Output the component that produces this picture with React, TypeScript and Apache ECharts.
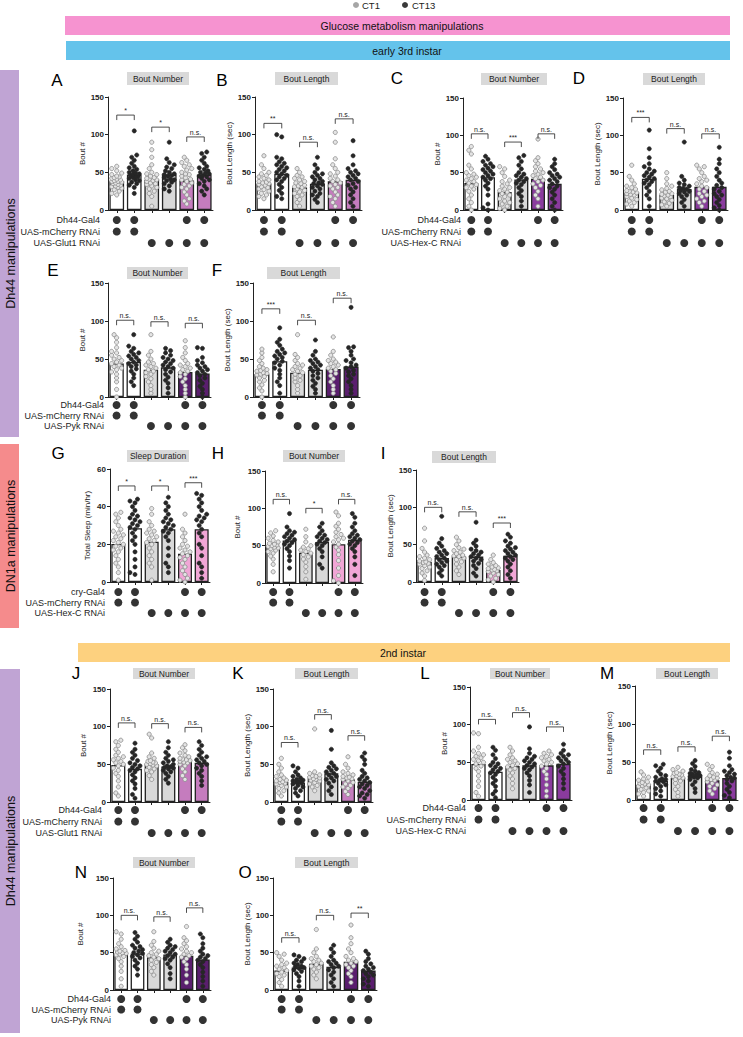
import React, { useEffect, useRef } from "react";
import * as echarts from "echarts";

const FONT = "'Liberation Sans', Arial, Helvetica, sans-serif";
const INK = "#222222";

// ---------- categories / labels ----------
const bars = ["0", "1", "2", "3", "4", "5"];
const glut1Labels = ["Dh44-Gal4", "UAS-mCherry RNAi", "UAS-Glut1 RNAi"];
const hexLabels = ["Dh44-Gal4", "UAS-mCherry RNAi", "UAS-Hex-C RNAi"];
const pykLabels = ["Dh44-Gal4", "UAS-mCherry RNAi", "UAS-Pyk RNAi"];
const cryLabels = ["cry-Gal4", "UAS-mCherry RNAi", "UAS-Hex-C RNAi"];
const genoRows = [
  [1, 1, 0, 0, 1, 1],
  [1, 1, 0, 0, 0, 0],
  [0, 0, 1, 1, 1, 1],
];

// ---------- panel A ----------
const meanA = [38, 47, 40, 47, 39, 47];
const sigYA = [126, 110, 97];
const sigA = ["*", "*", "n.s."];
const ptsA = [
  [20, 22, 25, 27, 29, 30, 31, 32, 33, 34, 35, 36, 37, 38, 38, 39, 40, 41, 42, 43, 44, 45, 47, 49, 52, 55, 58],
  [22, 30, 33, 35, 37, 39, 40, 42, 43, 44, 45, 46, 47, 48, 49, 50, 52, 54, 56, 58, 62, 66, 70, 73, 105],
  [5, 18, 22, 25, 28, 30, 32, 34, 35, 36, 38, 39, 40, 41, 42, 43, 45, 47, 48, 50, 55, 60, 70, 80, 90],
  [25, 28, 32, 35, 37, 39, 40, 41, 43, 45, 46, 47, 48, 50, 52, 55, 57, 60, 63, 68, 90],
  [8, 12, 15, 20, 24, 28, 30, 32, 34, 36, 38, 40, 41, 43, 45, 47, 48, 50, 53, 55, 58, 60, 63, 66, 70],
  [20, 25, 28, 32, 35, 38, 40, 42, 44, 45, 46, 48, 49, 50, 52, 54, 56, 58, 62, 66, 70, 75, 77],
];
// ---------- panel B ----------
const meanB = [35, 48, 30, 35, 38, 40];
const sigYB = [115, 90, 121];
const sigB = ["**", "n.s.", "n.s."];
const ptsB = [
  [15, 18, 20, 22, 25, 27, 28, 30, 31, 33, 34, 35, 36, 37, 38, 40, 42, 44, 46, 48, 50, 55, 60, 72],
  [15, 18, 22, 26, 30, 34, 38, 40, 42, 44, 46, 48, 50, 52, 54, 56, 58, 60, 62, 64, 68, 70, 97, 100],
  [5, 10, 14, 18, 20, 22, 24, 26, 28, 30, 31, 32, 33, 35, 36, 38, 40, 42, 44, 46, 50, 55],
  [10, 14, 18, 20, 22, 25, 28, 30, 32, 34, 35, 36, 38, 40, 42, 44, 46, 48, 50, 55, 60, 70],
  [5, 10, 15, 18, 20, 24, 28, 30, 32, 34, 36, 38, 40, 42, 45, 48, 50, 55, 60, 68, 90, 103],
  [5, 10, 15, 20, 24, 28, 30, 33, 35, 38, 40, 42, 44, 46, 48, 50, 52, 55, 60, 72, 92],
];
// ---------- panel C ----------
const meanC = [36, 44, 24, 41, 42, 35];
const sigYC = [102, 91, 102];
const sigC = ["n.s.", "***", "n.s."];
const ptsC = [
  [0, 5, 10, 15, 20, 25, 28, 30, 32, 34, 36, 38, 40, 42, 44, 46, 48, 50, 55, 60, 75, 80, 85],
  [0, 3, 8, 20, 28, 32, 36, 40, 42, 44, 46, 48, 50, 52, 54, 56, 58, 60, 62, 65, 68, 72],
  [0, 2, 5, 8, 10, 12, 15, 18, 20, 22, 24, 26, 28, 30, 32, 35, 38, 40, 45, 50, 55, 58],
  [5, 12, 18, 22, 26, 30, 34, 36, 38, 40, 42, 44, 46, 48, 50, 55, 60, 65, 70, 73],
  [5, 15, 20, 25, 30, 33, 35, 38, 40, 42, 44, 46, 48, 50, 52, 55, 58, 62, 66, 70, 95],
  [0, 5, 10, 15, 20, 24, 28, 30, 32, 35, 38, 40, 42, 44, 46, 48, 50, 54, 58, 62, 68],
];
// ---------- panel D ----------
const meanD = [23, 42, 20, 28, 31, 31];
const sigYD = [124, 109, 102];
const sigD = ["***", "n.s.", "n.s."];
const ptsD = [
  [5, 8, 10, 12, 14, 16, 18, 20, 21, 22, 23, 24, 25, 26, 28, 30, 32, 35, 40, 45, 60],
  [5, 15, 20, 25, 30, 34, 36, 38, 40, 42, 44, 46, 48, 50, 52, 55, 58, 62, 70, 82, 107],
  [5, 7, 9, 11, 13, 15, 16, 18, 19, 20, 21, 22, 24, 25, 27, 29, 32, 35, 42, 50],
  [5, 10, 14, 18, 20, 22, 24, 25, 26, 28, 29, 30, 32, 34, 36, 40, 45, 91],
  [5, 10, 12, 15, 18, 20, 22, 25, 28, 30, 32, 35, 38, 40, 42, 45, 50, 55, 58, 60],
  [0, 3, 6, 10, 14, 18, 20, 22, 25, 28, 30, 33, 36, 40, 45, 50, 55, 62, 68, 84],
];
// ---------- panel E ----------
const meanE = [44, 46, 36, 39, 33, 31];
const sigYE = [101, 99, 97];
const sigE = ["n.s.", "n.s.", "n.s."];
const ptsE = [
  [0, 10, 20, 25, 30, 33, 36, 38, 40, 42, 44, 46, 48, 50, 52, 55, 58, 60, 65, 72, 78, 82],
  [15, 20, 25, 30, 34, 37, 40, 42, 44, 46, 48, 50, 52, 54, 56, 58, 60, 64, 67, 82],
  [5, 10, 15, 20, 24, 27, 30, 32, 34, 36, 38, 40, 42, 44, 46, 50, 55, 60, 82],
  [5, 12, 18, 22, 26, 30, 33, 36, 38, 40, 42, 44, 46, 48, 50, 52, 55, 58, 61, 64],
  [0, 5, 10, 15, 20, 24, 27, 30, 32, 34, 36, 38, 40, 42, 44, 48, 52, 58, 65, 74],
  [0, 5, 10, 14, 18, 22, 25, 28, 30, 32, 34, 36, 38, 40, 42, 45, 48, 52, 64, 65],
];
// ---------- panel F ----------
const meanF = [30, 47, 32, 36, 37, 40];
const sigYF = [116, 101, 130];
const sigF = ["***", "n.s.", "n.s."];
const ptsF = [
  [0, 8, 12, 16, 20, 22, 25, 27, 29, 30, 31, 32, 34, 35, 36, 38, 40, 44, 48, 52, 58, 63],
  [5, 15, 20, 25, 30, 35, 38, 42, 45, 47, 50, 52, 54, 56, 58, 60, 63, 68, 72, 76, 91],
  [5, 10, 15, 20, 22, 25, 28, 30, 32, 34, 36, 38, 40, 42, 44, 48, 52, 56, 82],
  [5, 10, 14, 18, 22, 25, 28, 31, 34, 36, 38, 40, 42, 44, 46, 48, 50, 55, 60, 75],
  [5, 10, 15, 20, 24, 28, 31, 34, 36, 38, 40, 42, 44, 46, 48, 50, 55, 60, 79],
  [5, 10, 15, 20, 24, 28, 30, 33, 35, 38, 40, 42, 45, 48, 50, 55, 60, 65, 66, 118],
];
// ---------- panel G ----------
const meanG = [20.2, 28.6, 21.4, 28, 15, 28];
const sigYG = [51, 51, 52.7];
const sigG = ["*", "*", "***"];
const ptsG = [
  [1, 5, 8, 10, 12, 14, 16, 17, 18, 19, 20, 21, 22, 23, 24, 25, 26, 27, 28, 30, 32, 34, 36, 37],
  [4, 5, 8, 12, 16, 20, 22, 24, 26, 28, 29, 30, 31, 32, 33, 34, 35, 36, 38, 40, 42, 43, 44],
  [1, 8, 10, 12, 14, 16, 18, 20, 21, 22, 23, 24, 25, 26, 27, 28, 30, 32, 36, 39],
  [5, 8, 10, 14, 18, 22, 24, 26, 27, 28, 29, 30, 31, 32, 33, 34, 36, 38, 40, 42, 45],
  [0, 1, 2, 4, 6, 8, 10, 12, 13, 14, 15, 16, 17, 18, 19, 20, 22, 24, 26, 28, 36],
  [2, 5, 8, 10, 14, 18, 20, 24, 26, 28, 30, 32, 33, 34, 35, 36, 38, 40, 42, 44, 46, 47],
];
// ---------- panel H ----------
const meanH = [48.6, 57, 40.6, 55, 52, 58];
const sigYH = [112, 100, 112];
const sigH = ["n.s.", "*", "n.s."];
const ptsH = [
  [15, 25, 32, 36, 40, 42, 44, 46, 47, 48, 49, 50, 51, 52, 53, 55, 57, 60, 63, 67, 70],
  [20, 30, 36, 42, 46, 50, 52, 54, 56, 58, 60, 62, 64, 66, 68, 70, 75, 93],
  [5, 15, 22, 28, 32, 35, 38, 40, 42, 44, 46, 48, 50, 55, 62, 72],
  [20, 25, 35, 42, 46, 50, 52, 54, 56, 58, 60, 62, 64, 66, 70, 75, 80],
  [0, 3, 10, 20, 30, 38, 44, 48, 52, 55, 58, 60, 62, 65, 68, 72, 76, 80, 90, 95],
  [10, 25, 35, 42, 46, 50, 52, 54, 56, 58, 60, 62, 64, 66, 70, 75, 80, 88, 93],
];
// ---------- panel I ----------
const meanI = [27, 32, 34, 34, 16, 35];
const sigYI = [100, 94, 79];
const sigI = ["n.s.", "n.s.", "***"];
const ptsI = [
  [2, 8, 12, 15, 18, 20, 22, 24, 25, 26, 27, 28, 30, 32, 34, 36, 40, 45, 55, 72],
  [8, 12, 16, 20, 22, 24, 26, 28, 30, 32, 34, 36, 38, 40, 42, 45, 48, 52, 58, 88],
  [10, 15, 20, 24, 27, 30, 32, 34, 35, 36, 38, 40, 42, 44, 46, 50, 55, 60],
  [8, 12, 18, 22, 25, 28, 30, 32, 34, 36, 38, 40, 42, 44, 48, 52, 56, 80],
  [0, 3, 5, 8, 10, 12, 14, 15, 16, 17, 18, 19, 20, 22, 24, 26, 30, 36],
  [5, 10, 15, 20, 24, 28, 30, 32, 34, 36, 38, 40, 42, 44, 46, 48, 52, 55, 60, 64],
];
// ---------- panel J ----------
const meanJ = [49, 44, 50, 47, 54, 52];
const sigYJ = [105, 104, 99];
const sigJ = ["n.s.", "n.s.", "n.s."];
const ptsJ = [
  [8, 12, 20, 28, 34, 38, 42, 45, 48, 50, 52, 54, 56, 58, 60, 62, 66, 70, 75, 80, 82],
  [5, 10, 18, 24, 28, 32, 36, 40, 42, 44, 46, 48, 50, 52, 55, 58, 62, 66, 70, 78],
  [30, 35, 40, 42, 44, 46, 48, 49, 50, 51, 52, 53, 54, 55, 58, 60, 65, 85, 90],
  [25, 30, 34, 38, 40, 42, 44, 45, 46, 47, 48, 50, 52, 54, 56, 58, 62, 66, 72, 80],
  [30, 35, 40, 44, 48, 50, 52, 53, 54, 55, 56, 57, 58, 60, 62, 65, 68, 72, 76],
  [22, 28, 34, 38, 42, 45, 48, 50, 52, 54, 56, 58, 60, 62, 66, 70, 75, 80],
];
// ---------- panel K ----------
const meanK = [27, 26, 32, 38, 30, 27];
const sigYK = [79, 116, 88];
const sigK = ["n.s.", "n.s.", "n.s."];
const ptsK = [
  [8, 12, 15, 18, 20, 22, 24, 25, 26, 27, 28, 29, 30, 32, 34, 36, 40, 45, 50, 58],
  [8, 12, 15, 18, 20, 22, 24, 25, 26, 27, 28, 29, 30, 32, 34, 36, 40, 45, 48],
  [15, 20, 22, 24, 26, 28, 29, 30, 31, 32, 33, 34, 35, 36, 38, 40, 97],
  [10, 15, 20, 25, 28, 30, 32, 34, 36, 38, 40, 42, 44, 46, 48, 52, 70, 95],
  [10, 14, 18, 20, 22, 24, 26, 28, 30, 31, 32, 33, 34, 36, 38, 40, 45, 50, 60],
  [5, 8, 10, 12, 15, 18, 20, 22, 24, 26, 28, 30, 32, 34, 38, 42, 50, 56, 60, 65],
];
// ---------- panel L ----------
const meanL = [47.8, 37.6, 45, 46, 46, 48];
const sigYL = [107, 116, 97];
const sigL = ["n.s.", "n.s.", "n.s."];
const ptsL = [
  [5, 10, 18, 25, 32, 38, 42, 45, 48, 50, 52, 54, 56, 58, 60, 62, 65, 70, 88, 89],
  [3, 8, 12, 18, 22, 26, 30, 34, 36, 38, 40, 42, 44, 46, 48, 50, 55, 60, 66, 70],
  [15, 22, 28, 32, 36, 40, 42, 44, 46, 48, 50, 52, 54, 56, 60, 65, 70],
  [10, 20, 26, 32, 36, 40, 42, 44, 46, 48, 50, 52, 54, 56, 58, 62, 68, 97],
  [5, 12, 20, 28, 34, 38, 42, 45, 48, 50, 52, 54, 56, 58, 60, 62, 65],
  [15, 22, 28, 34, 38, 42, 45, 48, 50, 52, 54, 56, 58, 60, 62, 66, 74],
];
// ---------- panel M ----------
const meanM = [20, 25, 29, 31, 26, 29];
const sigYM = [66, 70, 84];
const sigM = ["n.s.", "n.s.", "n.s."];
const ptsM = [
  [5, 8, 10, 12, 14, 16, 18, 19, 20, 21, 22, 23, 24, 26, 28, 30, 33, 37],
  [5, 8, 12, 15, 18, 20, 22, 24, 25, 26, 27, 28, 30, 32, 34, 38, 42, 45, 47],
  [5, 10, 14, 18, 22, 25, 27, 29, 30, 31, 32, 33, 34, 35, 36, 38, 40, 43],
  [10, 15, 20, 24, 27, 29, 30, 31, 32, 33, 34, 35, 36, 38, 40, 44, 48, 52],
  [8, 12, 15, 18, 20, 22, 24, 26, 27, 28, 29, 30, 32, 34, 36, 40, 44, 47],
  [3, 6, 10, 14, 18, 22, 25, 27, 29, 30, 32, 34, 36, 38, 40, 45, 55, 63],
];
// ---------- panel N ----------
const meanN = [48, 49, 44, 47.6, 46, 41];
const sigYN = [100, 98, 110];
const sigN = ["n.s.", "n.s.", "n.s."];
const ptsN = [
  [5, 15, 25, 32, 38, 42, 45, 47, 48, 49, 50, 51, 52, 53, 55, 58, 62, 68, 75, 78],
  [20, 28, 32, 36, 40, 43, 45, 47, 49, 50, 52, 54, 56, 58, 60, 64, 68, 72, 77],
  [20, 25, 30, 34, 37, 40, 42, 44, 46, 48, 50, 52, 56, 60, 65, 78],
  [15, 22, 30, 35, 40, 42, 44, 46, 48, 50, 52, 54, 56, 58, 60, 64, 68],
  [10, 20, 28, 34, 38, 42, 44, 46, 48, 50, 52, 55, 58, 62, 66, 70, 85],
  [5, 12, 18, 24, 30, 34, 38, 40, 42, 44, 46, 48, 52, 56, 62, 70, 75],
];
// ---------- panel O ----------
const meanO = [26, 30, 35, 31, 38, 26];
const sigYO = [70, 100, 103];
const sigO = ["n.s.", "n.s.", "**"];
const ptsO = [
  [5, 10, 14, 18, 20, 22, 24, 26, 28, 30, 32, 34, 36, 40, 45, 48, 50],
  [5, 12, 18, 22, 25, 27, 29, 30, 31, 32, 34, 36, 38, 40, 42, 45, 47],
  [15, 20, 24, 28, 30, 32, 34, 36, 38, 40, 42, 45, 50, 55, 81],
  [5, 10, 15, 20, 24, 27, 30, 32, 34, 36, 38, 40, 45, 50, 55, 60],
  [10, 18, 22, 26, 30, 32, 34, 36, 38, 40, 42, 45, 50, 55, 62, 70, 87],
  [5, 8, 12, 15, 18, 20, 22, 24, 26, 28, 30, 32, 35, 38, 42, 48, 52],
];

// ---------- colours ----------
const C_ORCHID = "#c57cbe";
const C_MID = "#8a3b9e";
const C_DARK = "#5a1e6e";
const C_PINK = "#f1a6d6";

type Panel = {
  key: string; pts: number[][]; mean: number[]; sigY: number[]; sig: string[];
  color: string; max: number; yName: string; title: string; geno: string[]; showGeno: boolean;
  x0: number; x1: number; yT: number; yB: number; r0: number; r2: number;
  gap: number; lm: number; letter: [number, number]; box: [number, number, number, number];
};

const panels: Panel[] = [
  { key: "A", pts: ptsA, mean: meanA, sigY: sigYA, sig: sigA, color: C_ORCHID, max: 150, yName: "Bout #", title: "Bout Number", geno: glut1Labels, showGeno: true, x0: 108, x1: 213, yT: 97, yB: 210, r0: 220, r2: 243, gap: 17, lm: 8, letter: [57, 80], box: [127, 72, 62, 13] },
  { key: "B", pts: ptsB, mean: meanB, sigY: sigYB, sig: sigB, color: C_ORCHID, max: 150, yName: "Bout Length (sec)", title: "Bout Length", geno: glut1Labels, showGeno: false, x0: 255, x1: 362, yT: 97, yB: 210, r0: 220, r2: 243, gap: 14, lm: 4, letter: [222, 80], box: [275, 72, 63, 13] },
  { key: "C", pts: ptsC, mean: meanC, sigY: sigYC, sig: sigC, color: C_MID, max: 150, yName: "Bout #", title: "Bout Number", geno: hexLabels, showGeno: true, x0: 463, x1: 563, yT: 98, yB: 210, r0: 220, r2: 243, gap: 21, lm: 2, letter: [397, 78], box: [481, 73, 66, 12] },
  { key: "D", pts: ptsD, mean: meanD, sigY: sigYD, sig: sigD, color: C_MID, max: 150, yName: "Bout Length (sec)", title: "Bout Length", geno: hexLabels, showGeno: false, x0: 623, x1: 728, yT: 98, yB: 210, r0: 220, r2: 243, gap: 19, lm: 4, letter: [579, 78], box: [643, 73, 62, 12] },
  { key: "E", pts: ptsE, mean: meanE, sigY: sigYE, sig: sigE, color: C_DARK, max: 150, yName: "Bout #", title: "Bout Number", geno: pykLabels, showGeno: true, x0: 108, x1: 211, yT: 283, yB: 397, r0: 405, r2: 426, gap: 17, lm: 4, letter: [53, 270], box: [127, 267, 61, 12] },
  { key: "F", pts: ptsF, mean: meanF, sigY: sigYF, sig: sigF, color: C_DARK, max: 150, yName: "Bout Length (sec)", title: "Bout Length", geno: pykLabels, showGeno: false, x0: 253, x1: 360, yT: 283, yB: 397, r0: 405, r2: 426, gap: 14, lm: 4, letter: [217, 270], box: [267, 267, 73, 12] },
  { key: "G", pts: ptsG, mean: meanG, sigY: sigYG, sig: sigG, color: C_PINK, max: 60, yName: "Total Sleep (min/hr)", title: "Sleep Duration", geno: cryLabels, showGeno: true, x0: 110, x1: 210, yT: 469, yB: 582, r0: 592, r2: 613, gap: 19, lm: 5, letter: [58, 453], box: [127, 450, 62, 12] },
  { key: "H", pts: ptsH, mean: meanH, sigY: sigYH, sig: sigH, color: C_PINK, max: 150, yName: "Bout #", title: "Bout Number", geno: cryLabels, showGeno: false, x0: 265, x1: 363, yT: 471, yB: 583, r0: 592, r2: 613, gap: 24, lm: 4, letter: [218, 453], box: [283, 450, 62, 12] },
  { key: "I", pts: ptsI, mean: meanI, sigY: sigYI, sig: sigI, color: C_PINK, max: 150, yName: "Bout Length (sec)", title: "Bout Length", geno: cryLabels, showGeno: false, x0: 416, x1: 519, yT: 470, yB: 582, r0: 592, r2: 613, gap: 19, lm: 4, letter: [383, 453], box: [432, 451, 64, 12] },
  { key: "J", pts: ptsJ, mean: meanJ, sigY: sigYJ, sig: sigJ, color: C_ORCHID, max: 150, yName: "Bout #", title: "Bout Number", geno: glut1Labels, showGeno: true, x0: 110, x1: 210, yT: 689, yB: 802, r0: 810, r2: 833, gap: 23, lm: 8, letter: [76, 673], box: [133, 668, 62, 11] },
  { key: "K", pts: ptsK, mean: meanK, sigY: sigYK, sig: sigK, color: C_ORCHID, max: 150, yName: "Bout Length (sec)", title: "Bout Length", geno: glut1Labels, showGeno: false, x0: 273, x1: 373, yT: 689, yB: 802, r0: 810, r2: 833, gap: 21, lm: 4, letter: [238, 673], box: [295, 668, 63, 11] },
  { key: "L", pts: ptsL, mean: meanL, sigY: sigYL, sig: sigL, color: C_MID, max: 150, yName: "Bout #", title: "Bout Number", geno: hexLabels, showGeno: true, x0: 470, x1: 572, yT: 687, yB: 800, r0: 808, r2: 831, gap: 18, lm: 4, letter: [425, 673], box: [490, 668, 60, 11] },
  { key: "M", pts: ptsM, mean: meanM, sigY: sigYM, sig: sigM, color: C_MID, max: 150, yName: "Bout Length (sec)", title: "Bout Length", geno: hexLabels, showGeno: false, x0: 635, x1: 738, yT: 686, yB: 800, r0: 808, r2: 831, gap: 18, lm: 4, letter: [607, 673], box: [656, 668, 62, 11] },
  { key: "N", pts: ptsN, mean: meanN, sigY: sigYN, sig: sigN, color: C_DARK, max: 150, yName: "Bout #", title: "Bout Number", geno: pykLabels, showGeno: true, x0: 113, x1: 211, yT: 878, yB: 990, r0: 999, r2: 1020, gap: 29, lm: 2, letter: [81, 872], box: [133, 857, 62, 11] },
  { key: "O", pts: ptsO, mean: meanO, sigY: sigYO, sig: sigO, color: C_DARK, max: 150, yName: "Bout Length (sec)", title: "Bout Length", geno: pykLabels, showGeno: false, x0: 273, x1: 377, yT: 878, yB: 990, r0: 999, r2: 1020, gap: 20, lm: 4, letter: [245, 872], box: [295, 857, 63, 11] },
];

// beeswarm-style horizontal spreading (pixel offsets), computed from values
function swarm(vals: number[], ppu: number): [number, number][] {
  const sorted = [...vals].sort((a, b) => a - b);
  const placed: [number, number][] = [];
  const offs = [0, -2.5, 2.5, -5, 5, -1.25, 1.25, -3.75, 3.75];
  const d = 3.8;
  return sorted.map((v) => {
    const y = v * ppu;
    let best = 0;
    let bestDist = -1;
    for (const o of offs) {
      let minD = Infinity;
      for (const [px, py] of placed) {
        const dd = Math.hypot(px - o, py - y);
        if (dd < minD) minD = dd;
      }
      if (minD >= d) { best = o; break; }
      if (minD > bestDist) { bestDist = minD; best = o; }
    }
    placed.push([best, y]);
    return [v, best];
  });
}

function buildOption() {
  const grid: any[] = [];
  const xAxis: any[] = [];
  const yAxis: any[] = [];
  const series: any[] = [];
  const graphic: any[] = [];

  panels.forEach((p, i) => {
    const gi = i * 2;
    const w = p.x1 - p.x0;
    const h = p.yB - p.yT;
    const s = (p.r2 - p.r0) / 2;
    grid.push({ left: p.x0, top: p.yT, width: w, height: h });
    grid.push({ left: p.x0, top: p.r0 - s / 2, width: w, height: s * 3 });

    xAxis.push({
      type: "category", gridIndex: gi, data: bars,
      axisLine: { lineStyle: { color: INK, width: 1 } },
      axisTick: { show: true, alignWithLabel: true, length: 3, lineStyle: { color: INK } },
      axisLabel: { show: false }, splitLine: { show: false },
    });
    xAxis.push({ type: "category", gridIndex: gi + 1, data: bars, show: false });

    yAxis.push({
      type: "value", gridIndex: gi, min: 0, max: p.max, interval: p.max / 3,
      name: p.yName, nameLocation: "middle", nameGap: p.gap,
      nameTextStyle: { fontSize: 8, color: INK, fontFamily: FONT },
      axisLine: { show: true, lineStyle: { color: INK, width: 1 } },
      axisTick: { show: true, length: 3, lineStyle: { color: INK } },
      axisLabel: { fontSize: 8, fontWeight: "bold", color: INK, margin: 4, fontFamily: FONT },
      splitLine: { show: false },
    });
    yAxis.push({
      type: "category", gridIndex: gi + 1, data: p.geno, inverse: true,
      axisLine: { show: false }, axisTick: { show: false }, splitLine: { show: false },
      axisLabel: {
        show: p.showGeno, interval: 0, hideOverlap: false, fontSize: 9, color: INK,
        margin: p.lm, fontFamily: FONT,
      },
    });

    const fills = ["#ffffff", "#ffffff", "#d9d9d9", "#d9d9d9", p.color, p.color];
    series.push({
      type: "bar", xAxisIndex: gi, yAxisIndex: gi, barCategoryGap: "16%",
      data: p.mean.map((v, j) => ({ value: v, itemStyle: { color: fills[j] } })),
      itemStyle: { borderColor: INK, borderWidth: 1.3 },
      silent: true, z: 2,
    });

    const ppu = h / p.max;
    const pointData: number[][] = [];
    p.pts.forEach((arr, j) => {
      swarm(arr, ppu).forEach(([v, off]) => pointData.push([j, v, off, j % 2]));
    });
    series.push({
      type: "custom", xAxisIndex: gi, yAxisIndex: gi, data: pointData, z: 3, silent: true,
      encode: { x: 0, y: 1 }, itemStyle: { color: INK },
      renderItem: (_params: any, api: any) => {
        const pt = api.coord([api.value(0), api.value(1)]);
        const dark = api.value(3) === 1;
        return {
          type: "circle",
          shape: { cx: pt[0] + api.value(2), cy: pt[1], r: 2.1 },
          style: dark
            ? { fill: "#262626", stroke: "#262626", lineWidth: 0.6 }
            : { fill: "#e4e4e4", stroke: "#8a8a8a", lineWidth: 0.8 },
        };
      },
    });

    const labels = p.sig;
    series.push({
      type: "custom", xAxisIndex: gi, yAxisIndex: gi, z: 4, silent: true,
      data: p.sigY.map((y, g) => [g, y]), itemStyle: { color: INK },
      encode: { x: 0, y: 1 },
      renderItem: (params: any, api: any) => {
        const g = api.value(0);
        const y = api.value(1);
        const a = api.coord([2 * g, y]);
        const b = api.coord([2 * g + 1, y]);
        return {
          type: "group",
          children: [
            {
              type: "polyline",
              shape: { points: [[a[0], a[1] + 5], [a[0], a[1]], [b[0], b[1]], [b[0], b[1] + 5]] },
              style: { stroke: INK, lineWidth: 0.8, fill: null },
            },
            {
              type: "text",
              x: (a[0] + b[0]) / 2, y: a[1] - 1,
              style: {
                text: labels[params.dataIndex],
                align: "center", verticalAlign: "bottom", fontSize: 7, fill: INK, fontFamily: FONT,
              },
            },
          ],
        };
      },
    });

    const genoData: number[][] = [];
    genoRows.forEach((row, r) => row.forEach((on, c) => { if (on) genoData.push([c, r]); }));
    series.push({
      type: "scatter", xAxisIndex: gi + 1, yAxisIndex: gi + 1, data: genoData,
      symbolSize: 8, itemStyle: { color: "#000000" }, silent: true,
    });

    graphic.push({
      type: "text", x: p.letter[0], y: p.letter[1],
      style: { text: p.key, fontSize: 17, fill: "#000", align: "center", verticalAlign: "middle", fontFamily: FONT },
    });
    graphic.push({
      type: "rect", shape: { x: p.box[0], y: p.box[1], width: p.box[2], height: p.box[3] },
      style: { fill: "#d9d9d9" },
    });
    graphic.push({
      type: "text", x: p.box[0] + p.box[2] / 2, y: p.box[1] + p.box[3] / 2,
      style: { text: p.title, fontSize: 8.5, fill: INK, align: "center", verticalAlign: "middle", fontFamily: FONT },
    });
  });

  // legend
  graphic.push({ type: "circle", shape: { cx: 356, cy: 5, r: 3 }, style: { fill: "#a6a6a6" } });
  graphic.push({ type: "text", x: 362, y: 5, style: { text: "CT1", fontSize: 9.5, fill: INK, verticalAlign: "middle", fontFamily: FONT } });
  graphic.push({ type: "circle", shape: { cx: 405, cy: 5, r: 3 }, style: { fill: "#3a3a3a" } });
  graphic.push({ type: "text", x: 412, y: 5, style: { text: "CT13", fontSize: 9.5, fill: INK, verticalAlign: "middle", fontFamily: FONT } });

  // banners
  const banners: [number, number, number, number, string, string, number][] = [
    [65, 16, 665, 19, "#f693d0", "Glucose metabolism manipulations", 402],
    [66, 41, 664, 19, "#64c3eb", "early 3rd instar", 407],
    [78, 643, 652, 19, "#fdd17f", "2nd instar", 403],
  ];
  banners.forEach(([x, y, w, h, c, t, tx]) => {
    graphic.push({ type: "rect", shape: { x, y, width: w, height: h }, style: { fill: c } });
    graphic.push({
      type: "text", x: tx, y: y + h / 2,
      style: { text: t, fontSize: 10.5, fill: "#111", align: "center", verticalAlign: "middle", fontFamily: FONT },
    });
  });

  // side bars
  const sides: [number, number, number, string, string][] = [
    [70, 367, 19, "#c0a4d4", "Dh44 manipulations"],
    [444, 184, 19, "#f58b8c", "DN1a manipulations"],
    [669, 364, 20, "#c0a4d4", "Dh44 manipulations"],
  ];
  sides.forEach(([y, h, w, c, t]) => {
    graphic.push({ type: "rect", shape: { x: 0, y, width: w, height: h }, style: { fill: c } });
    graphic.push({
      type: "text", x: w / 2 + 1, y: y + h / 2, rotation: Math.PI / 2,
      style: { text: t, fontSize: 12.5, fill: "#111", align: "center", verticalAlign: "middle", fontFamily: FONT },
    });
  });

  return {
    animation: false,
    backgroundColor: "#ffffff",
    textStyle: { fontFamily: FONT },
    grid, xAxis, yAxis, series, graphic,
  };
}

export default function App() {
  const ref = useRef<HTMLDivElement>(null);
  useEffect(() => {
    if (!ref.current) return;
    const chart = echarts.init(ref.current, undefined, { renderer: "svg" });
    chart.setOption(buildOption());
    return () => chart.dispose();
  }, []);
  return (
    <div
      ref={ref}
      style={{ position: "absolute", left: 0, top: 0, width: 743, height: 1037, background: "#fff" }}
    />
  );
}
